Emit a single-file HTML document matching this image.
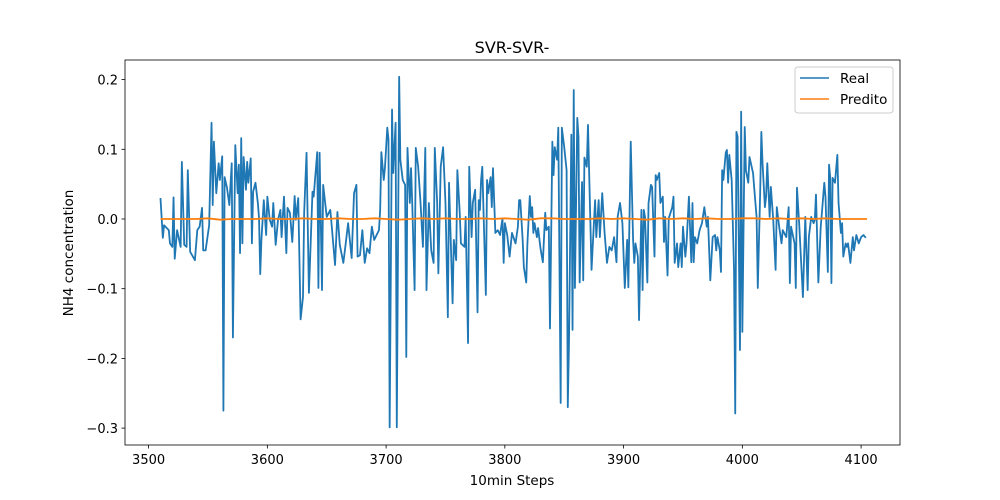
<!DOCTYPE html>
<html><head><meta charset="utf-8"><style>
body{margin:0;background:#fff;}
svg{display:block;font-family:"DejaVu Sans","Liberation Sans",sans-serif;}
</style></head><body>
<svg id="chart" width="1000" height="500">
<rect width="1000" height="500" fill="#fff"/>
<text x="512" y="53" font-size="16" text-anchor="middle">SVR-SVR-</text>
<g id="plot"></g>
<text x="512" y="485" font-size="13.5" text-anchor="middle">10min Steps</text>
<text x="73" y="253" font-size="13.5" text-anchor="middle" transform="rotate(-90 73 253)">NH4 concentration</text>
<g>
<rect x="795" y="67" width="98" height="46" rx="3" fill="#fff" fill-opacity="0.8" stroke="#ccc"/>
<line x1="800" y1="78" x2="829" y2="78" stroke="#1f77b4" stroke-width="1.5"/>
<text x="840" y="83" font-size="13.5">Real</text>
<line x1="800" y1="99" x2="829" y2="99" stroke="#ff7f0e" stroke-width="1.5"/>
<text x="840" y="104" font-size="13.5">Predito</text>
</g>
</svg>
<script>
const realSteps=[3510,3512,3513,3517,3518,3520,3521,3522,3524,3527,3528,3530,3532,3533,3535,3539,3541,3543,3545,3546,3548,3551,3553,3554,3555,3557,3559,3560,3562,3563,3564,3566,3568,3570,3571,3573,3575,3576,3577,3578,3579,3580,3582,3583,3584,3586,3587,3588,3590,3592,3593,3594,3595,3597,3599,3600,3602,3604,3605,3607,3609,3611,3612,3614,3616,3617,3619,3621,3623,3624,3626,3628,3630,3631,3633,3635,3638,3639,3642,3643,3644,3646,3647,3650,3653,3654,3657,3659,3661,
3664,3666,3668,3671,3673,3675,3676,3678,3680,3682,3684,3686,3688,3690,3694,3695,3696,3698,3699,3701,3702,3703,3705,3706,3708,3709,3711,3712,3714,3716,3717,3718,3720,3721,3722,3724,3725,3727,3729,3731,3733,3734,3736,3738,3740,3741,3743,3744,3746,3748,3750,3752,3753,3756,3757,3759,3760,3762,3763,3766,3767,3769,3770,3772,3773,3775,3777,3778,3779,3780,3781,3782,3784,3785,3786,3788,3789,3790,3792,3794,3796,3798,3799,3800,3802,3804,3806,3809,3811,3812,
3813,3815,3816,3818,3819,3821,3822,3823,3824,3825,3827,3828,3830,3832,3834,3835,3837,3838,3840,3841,3842,3844,3845,3847,3848,3850,3852,3853,3854,3856,3857,3858,3859,3861,3862,3863,3865,3866,3867,3869,3870,3873,3875,3876,3877,3879,3880,3882,3884,3886,3888,3890,3892,3894,3895,3897,3899,3901,3903,3904,3906,3908,3909,3910,3912,3913,3915,3916,3917,3918,3920,3921,3923,3924,3926,3927,3928,3930,3931,3933,3934,3935,3937,3938,3941,3942,3943,3945,3946,3948,3949,3950,3952,3953,3955,3957,3958,3959,3960,3962,3964,
3966,3968,3970,3971,3973,3975,3977,3978,3979,3981,3982,3983,3984,3986,3987,3988,3989,3991,3993,3994,3995,3996,3998,3999,4000,4002,4003,4005,4006,4009,4011,4012,4013,4015,4016,4017,4019,4020,4021,4023,4024,4026,4028,4029,4031,4033,4034,4037,4039,4040,4041,4044,4045,4046,4048,4049,4051,4053,4055,4056,4058,4060,4061,4062,4064,4066,4067,4069,4070,4072,4073,4074,4075,4076,4078,4080,4081,4083,4084,4085,4087,4088,4089,4091,4093,4094,4096,4098,4100,4102,4104];
const realValues=[0.030,-0.027,-0.009,-0.016,-0.035,-0.040,0.031,-0.057,-0.016,-0.040,0.082,-0.037,-0.040,0.070,-0.047,-0.059,-0.016,-0.011,0.016,-0.045,-0.045,-0.009,0.138,0.020,0.111,0.037,0.080,0.056,0.090,-0.275,0.060,0.045,0.020,0.080,-0.170,0.106,0.037,0.078,-0.049,0.116,-0.035,0.089,0.042,0.082,0.052,0.087,-0.035,0.039,0.052,0.023,0.001,-0.079,-0.030,0.027,-0.023,0.032,-0.001,-0.011,0.023,-0.037,-0.001,0.013,-0.026,0.032,-0.049,0.016,0.009,-0.033,0.033,-0.001,0.030,-0.144,-0.112,0.009,0.095,-0.106,0.039,0.032,0.096,-0.099,0.095,-0.102,0.049,0.003,0.013,-0.006,-0.066,0.010,-0.037,
-0.063,-0.035,-0.006,-0.056,0.037,0.049,-0.054,-0.052,-0.016,-0.063,-0.042,-0.049,-0.011,-0.030,-0.016,0.013,0.096,0.056,0.073,0.131,0.114,-0.299,0.157,0.066,0.138,-0.299,0.204,0.085,0.056,0.049,-0.198,0.102,0.023,0.073,0.023,-0.102,0.102,0.075,0.023,-0.040,0.102,-0.102,0.023,-0.045,-0.063,0.102,0.023,-0.078,0.075,0.103,0.023,-0.141,0.052,-0.121,-0.030,-0.059,0.070,0.009,-0.035,-0.040,0.003,-0.178,0.075,-0.026,0.023,0.042,-0.134,0.027,0.013,0.056,0.075,0.013,-0.109,0.056,0.037,0.060,0.017,0.073,-0.020,-0.016,-0.023,0.001,-0.063,-0.006,-0.023,-0.054,-0.020,-0.035,-0.011,0.027,
0.027,-0.030,-0.069,-0.091,-0.035,0.033,0.003,0.017,-0.020,-0.006,-0.026,-0.013,-0.042,-0.062,0.009,-0.016,-0.011,-0.157,0.111,0.063,0.103,0.085,0.131,-0.264,0.131,0.103,0.070,-0.270,-0.178,0.121,-0.159,0.185,-0.099,0.145,0.118,-0.091,0.053,-0.088,0.088,0.075,0.135,-0.073,-0.006,0.027,-0.026,0.027,-0.026,0.037,-0.020,-0.063,-0.040,-0.045,-0.026,-0.062,0.003,0.023,-0.006,-0.099,-0.030,-0.098,0.111,-0.030,-0.063,-0.035,-0.054,-0.145,0.013,-0.102,0.013,0.003,-0.091,0.023,0.049,0.046,-0.054,0.063,0.056,0.066,0.023,0.032,-0.033,0.003,-0.081,0.001,0.017,0.032,-0.063,-0.035,-0.069,-0.035,-0.069,-0.011,-0.054,-0.035,0.032,-0.062,0.023,-0.062,-0.026,-0.035,-0.016,
-0.006,0.017,-0.011,0.003,-0.088,-0.026,-0.023,-0.045,-0.026,-0.045,-0.076,0.070,0.056,0.095,0.099,0.052,0.092,0.056,-0.073,-0.279,0.125,0.118,-0.188,0.154,-0.162,0.132,0.070,0.052,0.089,0.066,0.023,0.003,-0.099,0.037,0.125,0.080,0.017,0.032,0.080,0.003,0.046,-0.001,-0.073,0.017,-0.011,-0.035,-0.016,-0.026,0.017,-0.092,-0.011,-0.035,-0.099,0.045,-0.011,-0.045,-0.112,0.003,-0.102,-0.026,0.003,-0.006,-0.001,0.035,-0.091,-0.011,0.009,0.052,0.032,-0.076,0.078,0.060,-0.092,0.059,0.052,0.092,0.023,-0.020,-0.006,-0.054,-0.035,-0.040,-0.035,-0.063,-0.026,-0.045,-0.023,-0.035,-0.026,-0.023,-0.027];
const predSteps=[3510,3520,3530,3540,3550,3560,3570,3580,3590,3600,3610,3620,3630,3640,3650,3660,3670,3680,3690,3700,3710,3720,3730,3740,3750,3760,3770,3780,3790,3800,3810,3820,3830,3840,3850,3860,3870,3880,3890,3900,3910,3920,3930,3940,3950,3960,3970,3980,3990,4000,4010,4020,4030,4040,4050,4060,4070,4080,4090,4100,4105];
const predValues=[0.000,0.000,0.000,0.000,0.001,-0.001,0.000,0.000,0.000,0.001,0.000,0.000,0.001,0.000,0.000,0.001,0.000,0.000,0.001,0.000,-0.001,0.000,0.001,0.000,0.001,0.000,0.000,0.001,0.000,0.001,0.000,-0.001,0.001,0.001,0.000,0.000,0.000,0.001,0.000,0.001,0.000,-0.001,0.001,0.000,0.001,0.000,0.001,0.000,0.000,0.001,0.001,0.000,0.001,0.000,0.001,0.000,0.001,0.000,0.000,0.000,0.000];
const xTicks=[3500,3600,3700,3800,3900,4000,4100];
const yTicks=[0.2,0.1,0.0,-0.1,-0.2,-0.3];
const NS='http://www.w3.org/2000/svg';
const L=125,R=900,T=60,B=445;
function xs(v){return 148.6+(v-3500)*1.1875;}
function ys(v){return 219-v*697;}
const svg=document.getElementById('chart');
const plot=document.getElementById('plot');
function mk(tag,attrs,parent){const e=document.createElementNS(NS,tag);for(const k in attrs)e.setAttribute(k,attrs[k]);(parent||svg).appendChild(e);return e;}
function path(steps,vals,color,name,w){
  let d='';for(let i=0;i<steps.length;i++)d+=(i?'L':'M')+xs(steps[i]).toFixed(2)+','+ys(vals[i]).toFixed(2);
  const p=mk('path',{d:d,fill:'none',stroke:color,'stroke-width':w,'stroke-linejoin':'round'},plot);
  
  
}
path(realSteps,realValues,'#1f77b4','real-series-line',1.8);
path(predSteps,predValues,'#ff7f0e','predito-series-line',1.8);
const frame=mk('rect',{x:L,y:T,width:R-L,height:B-T,fill:'none',stroke:'#000','stroke-width':0.8});


xTicks.forEach(t=>{
  const x=xs(t);
  const tk=mk('line',{x1:x,y1:B,x2:x,y2:B+3.5,stroke:'#000','stroke-width':0.8});
  
  
  const lb=mk('text',{x:x,y:B+19,'font-size':13,'text-anchor':'middle'});
  lb.textContent=t;
  
  
});
yTicks.forEach(t=>{
  const y=ys(t);
  const tk=mk('line',{x1:L-3.5,y1:y,x2:L,y2:y,stroke:'#000','stroke-width':0.8});
  
  
  const lb=mk('text',{x:L-7,y:y+5,'font-size':13,'text-anchor':'end'});
  lb.textContent=(t<0?'\u2212':'')+Math.abs(t).toFixed(1);
  
  
});
</script>
</body></html>
